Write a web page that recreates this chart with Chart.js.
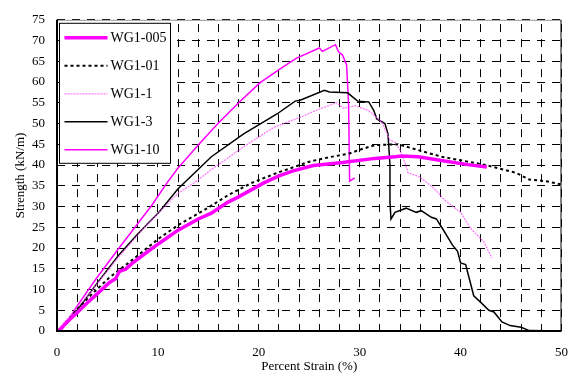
<!DOCTYPE html>
<html>
<head>
<meta charset="utf-8">
<script src="https://cdn.jsdelivr.net/npm/chart.js@4"></script>
<style>
  html, body { margin: 0; padding: 0; background: #fff; }
  #wrap { width: 582px; height: 376px; }
</style>
</head>
<body>
<div id="wrap"><canvas id="strainChart" width="582" height="376"></canvas></div>
<script>
// Strength vs percent strain curves

const seriesNames = ['WG1-005', 'WG1-01', 'WG1-1', 'WG1-3', 'WG1-10'];

const wg1_005_strain   = [0, 0.3, 1, 1.9, 3, 4, 5.2, 5.8, 6.0, 6.2, 6.8, 7.5, 8.8, 10.1, 12, 14, 15.3, 16.9, 17.9, 20.5, 22, 23.4, 25.4, 28.3, 31.5, 33.5, 34.2, 35.8, 38.1, 40.7, 42.6];
const wg1_005_strength = [0, 0.3, 2.2, 4.2, 6.8, 9.0, 11.7, 12.6, 13.5, 14.4, 14.9, 16.4, 18.8, 21.1, 24.3, 27.0, 28.4, 31.0, 32.2, 35.7, 37.4, 38.6, 39.9, 40.6, 41.6, 42.0, 42.2, 42.0, 41.1, 40.1, 39.5];

const wg1_01_strain   = [0, 0.6, 1.9, 3.5, 5.2, 7.5, 10.1, 12, 14, 15.3, 17, 19.3, 21.8, 25, 27, 28.9, 29.9, 31.5, 33.8, 35.8, 38.1, 42.3, 45.5, 46.8, 48.5, 50];
const wg1_01_strength = [0, 1.0, 5.0, 9.0, 12.9, 17.2, 22.3, 25.5, 28.3, 30.2, 32.8, 35.7, 38.1, 40.8, 41.9, 42.7, 43.6, 44.8, 45.0, 43.6, 42.0, 40.1, 38.1, 36.5, 36.1, 35.3];

const wg1_1_strain   = [0, 0.5, 0.9, 2.9, 6, 8.5, 10.7, 12, 13.6, 15.3, 18.5, 21.5, 24.1, 26, 27.7, 28.4, 29.6, 30.9, 32.2, 33, 33.5, 34, 34.5, 34.8, 35.8, 36.7, 37.4, 38.4, 40, 41, 42.3, 43.1];
const wg1_1_strength = [0, 1.5, 2.6, 8.1, 17.5, 24.5, 30.0, 33.2, 35.7, 38.9, 44.4, 49.1, 51.5, 53.5, 55.0, 53.7, 54.3, 53.1, 50.3, 46.0, 45.5, 43.6, 40.5, 38.1, 37.3, 35.7, 34.3, 31.6, 28.6, 24.7, 21.5, 17.6];

const wg1_3_strain   = [0, 0.5, 1, 2, 4, 6.15, 8, 10.1, 12, 15.3, 18.5, 21.8, 23.6, 24.1, 26.5, 27, 28.8, 29.8, 30.9, 31.4, 31.7, 32.5, 32.8, 33.0, 33.0, 33.1, 33.5, 34.6, 35.6, 36.1, 37.1, 37.6, 38.2, 39.2, 39.7, 40, 40.5, 40.8, 41.3, 42, 42.8, 43.3, 44.1, 44.9, 46, 46.8, 50];
const wg1_3_strength = [0, 0.8, 1.8, 5.0, 11.6, 18.4, 23.4, 28.6, 34.3, 42.0, 47.5, 52.3, 55.4, 55.6, 58.0, 57.6, 57.4, 55.4, 55.2, 53.1, 51.1, 50.0, 47.5, 40.0, 31.0, 27.0, 28.6, 29.6, 28.6, 29.0, 27.4, 27.0, 24.7, 20.7, 19.2, 16.4, 16.0, 13.2, 8.5, 6.9, 5.0, 4.6, 2.2, 1.3, 0.9, 0.1, 0];

const wg1_10_strain   = [0, 0.5, 1, 1.9, 4, 6.15, 9.4, 10.9, 12, 14, 15.9, 18, 20.1, 22, 23.7, 26, 26.3, 27.6, 27.9, 28.3, 28.7, 28.9, 29.0, 29.5];
const wg1_10_strength = [0, 0.6, 2.0, 5.7, 13.0, 20.0, 30.3, 35.7, 39.3, 44.8, 49.9, 55.0, 59.8, 63.0, 65.7, 68.2, 67.4, 69.0, 67.3, 66.5, 64.1, 54.6, 36.1, 36.9];

const xTicks = [0, 10, 20, 30, 40, 50];
const yTicks = [0, 5, 10, 15, 20, 25, 30, 35, 40, 45, 50, 55, 60, 65, 70, 75];

const FONT = "'Liberation Serif', 'Times New Roman', serif";

function toPoints(xs, ys) {
    return xs.map((x, i) => ({ x: x, y: ys[i] }));
}

const lineStyles = [
    { color: '#ff00ff', width: 3.5, dash: [] },
    { color: '#000000', width: 2, dash: [3, 3] },
    { color: 'rgba(255,80,255,0.75)', width: 1.3, dash: [2, 1] },
    { color: '#000000', width: 1.5, dash: [] },
    { color: '#ff00ff', width: 1.5, dash: [] }
];

const seriesData = [
    toPoints(wg1_005_strain, wg1_005_strength),
    toPoints(wg1_01_strain, wg1_01_strength),
    toPoints(wg1_1_strain, wg1_1_strength),
    toPoints(wg1_3_strain, wg1_3_strength),
    toPoints(wg1_10_strain, wg1_10_strength)
];

// frame + boxed legend in the upper left corner
const framePlugin = {
    id: 'frameLegend',
    afterDatasetsDraw(chart) {
        const { ctx, chartArea: a } = chart;
        ctx.save();
        ctx.setLineDash([]);
        ctx.lineWidth = 1;
        ctx.strokeStyle = '#999';
        ctx.beginPath();
        ctx.moveTo(a.left, a.top + 0.5);
        ctx.lineTo(a.right, a.top + 0.5);
        ctx.stroke();
        ctx.strokeStyle = '#000';
        ctx.beginPath();
        ctx.moveTo(a.right - 0.5, a.top);
        ctx.lineTo(a.right - 0.5, a.bottom);
        ctx.stroke();
        ctx.lineWidth = 2;
        ctx.beginPath();
        ctx.moveTo(a.left, a.top);
        ctx.lineTo(a.left, a.bottom);
        ctx.lineTo(a.right, a.bottom);
        ctx.stroke();

        // legend box
        const bx = a.left + 2.5, by = a.top + 3.5, bw = 111, bh = 140;
        ctx.fillStyle = '#fff';
        ctx.fillRect(bx, by, bw, bh);
        ctx.lineWidth = 1;
        ctx.strokeStyle = '#000';
        ctx.strokeRect(bx, by, bw, bh);

        ctx.font = '14px ' + FONT;
        ctx.textBaseline = 'middle';
        ctx.textAlign = 'left';
        chart.data.datasets.forEach((ds, i) => {
            const y = by + 14.5 + i * 28;
            ctx.strokeStyle = ds.borderColor;
            ctx.lineWidth = ds.borderWidth;
            ctx.setLineDash(ds.borderDash || []);
            ctx.beginPath();
            ctx.moveTo(bx + 5, y);
            ctx.lineTo(bx + 48, y);
            ctx.stroke();
            ctx.setLineDash([]);
            ctx.fillStyle = '#000';
            ctx.fillText(ds.label, bx + 51, y + 0.5);
        });
        ctx.restore();
    }
};

const ctx = document.getElementById('strainChart').getContext('2d');
new Chart(ctx, {
    type: 'line',
    data: {
        datasets: seriesNames.map((name, i) => ({
            label: name,
            data: seriesData[i],
            borderColor: lineStyles[i].color,
            borderWidth: lineStyles[i].width,
            borderDash: lineStyles[i].dash,
            pointRadius: 0,
            tension: 0,
            fill: false
        }))
    },
    options: {
        responsive: false,
        animation: false,
        layout: { padding: { left: 0, top: 14, right: 13, bottom: 0 } },
        plugins: {
            legend: { display: false },
            tooltip: { enabled: false }
        },
        scales: {
            x: {
                type: 'linear',
                min: 0,
                max: 50,
                afterFit(scale) { scale.height = 45; },
                afterBuildTicks(scale) {
                    const t = [];
                    for (let v = 0; v <= 50; v += 2) t.push({ value: v });
                    scale.ticks = t;
                },
                ticks: {
                    autoSkip: false,
                    maxRotation: 0,
                    padding: 14,
                    color: '#000',
                    font: { family: FONT, size: 13 },
                    callback: v => xTicks.includes(v) ? String(v) : ''
                },
                grid: { color: '#000', lineWidth: 1, drawTicks: false },
                border: { display: false, dash: [8, 7], dashOffset: 10.7 },
                title: {
                    display: true,
                    text: 'Percent Strain (%)',
                    color: '#000',
                    font: { family: FONT, size: 13 },
                    padding: { top: 0, bottom: 2 }
                }
            },
            y: {
                type: 'linear',
                min: 0,
                max: 75,
                afterFit(scale) { scale.width = 57; },
                afterBuildTicks(scale) {
                    scale.ticks = yTicks.map(v => ({ value: v }));
                },
                ticks: {
                    padding: 12,
                    color: '#000',
                    font: { family: FONT, size: 13 }
                },
                grid: { color: '#000', lineWidth: 1, drawTicks: false },
                border: { display: false, dash: [8, 7], dashOffset: 0 },
                title: {
                    display: true,
                    text: 'Strength (kN/m)',
                    color: '#000',
                    font: { family: FONT, size: 13 },
                    padding: { top: 13, bottom: 0 }
                }
            }
        }
    },
    plugins: [framePlugin]
});
</script>
</body>
</html>
